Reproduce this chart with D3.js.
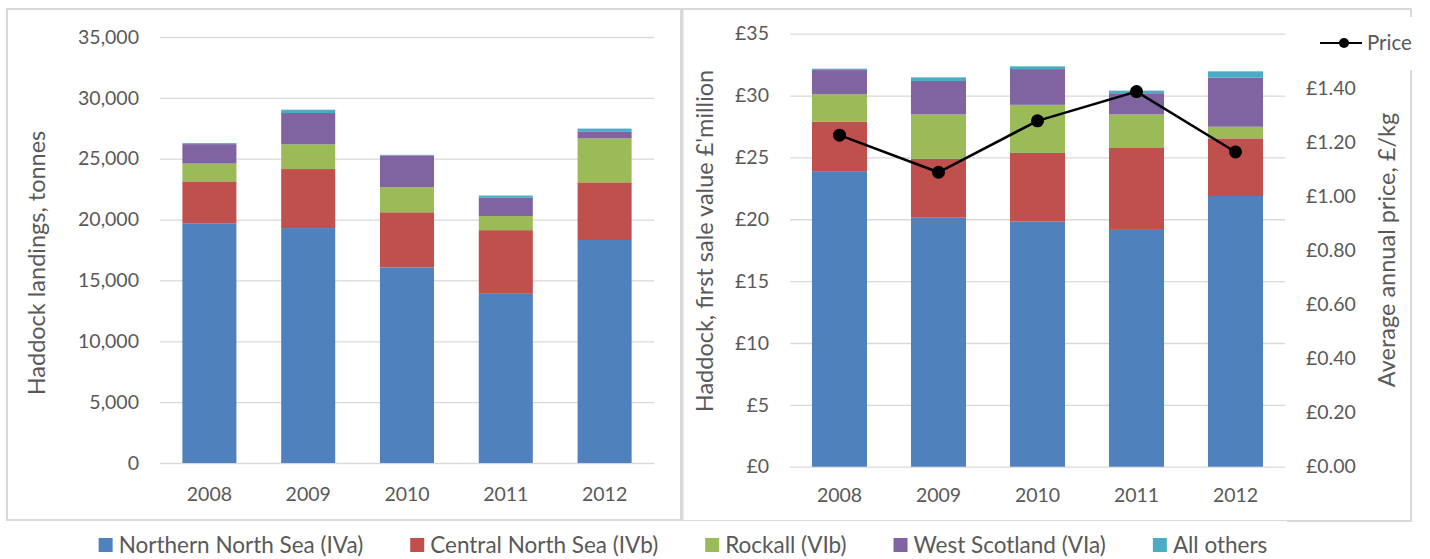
<!DOCTYPE html>
<html><head><meta charset="utf-8">
<script src="https://cdn.jsdelivr.net/npm/d3@7"></script>
<style>
html,body{margin:0;padding:0;background:#fff;}
svg{display:block;font-family:Lato,"Liberation Sans",sans-serif;}
</style></head>
<body><svg id="c" width="1430" height="559"></svg>
<script>
const years = ["2008","2009","2010","2011","2012"];
const seriesNames = ["Northern North Sea (IVa)","Central North Sea (IVb)","Rockall (VIb)","West Scotland (VIa)","All others"];
const colors = ["#4F81BD","#C0504D","#9BBB59","#8064A2","#4BACC6"];
// landings, tonnes
const landNNS   = [19700, 19300, 16070, 13900, 18320];
const landCNS   = [3440, 4850, 4530, 5230, 4740];
const landRock  = [1460, 2030, 2060, 1165, 3605];
const landWS    = [1600, 2575, 2575, 1490, 540];
const landOther = [80, 270, 80, 190, 270];
// first sale value, £ million
const valNNS   = [23.89, 20.13, 19.81, 19.14, 21.88];
const valCNS   = [3.99, 4.75, 5.55, 6.62, 4.66];
const valRock  = [2.23, 3.59, 3.89, 2.71, 0.94];
const valWS    = [1.95, 2.71, 2.89, 1.72, 3.97];
const valOther = [0.11, 0.29, 0.22, 0.21, 0.51];
// average annual price, £/kg
const price = [1.225, 1.088, 1.278, 1.386, 1.163];
const leftTicks = [0,5000,10000,15000,20000,25000,30000,35000];
const valTicks = [0,5,10,15,20,25,30,35];
const priceTicks = [0,0.2,0.4,0.6,0.8,1.0,1.2,1.4];

const svg = d3.select("#c");
const txt = "#595959", grid = "#D9D9D9", border = "#D9D9D9";

function rows(arrs){ return years.map((y,i)=>{const o={year:y}; seriesNames.forEach((s,k)=>o[s]=arrs[k][i]); return o;}); }
const stack = d3.stack().keys(seriesNames);

// panel borders
svg.append("rect").attr("x",7).attr("y",9).attr("width",674).attr("height",511)
  .attr("fill","none").attr("stroke",border).attr("stroke-width",2);
svg.append("rect").attr("x",682.5).attr("y",9).attr("width",728.5).attr("height",512)
  .attr("fill","none").attr("stroke",border).attr("stroke-width",2);

function drawBars(g, data, x, y){
  const layers = stack(data);
  g.selectAll("g.layer").data(layers).join("g").attr("class","layer")
    .attr("fill",(d,i)=>colors[i])
    .selectAll("rect").data(d=>d).join("rect")
    .attr("x",d=>x(d.data.year)).attr("width",x.bandwidth())
    .attr("y",d=>y(d[1])).attr("height",d=>y(d[0])-y(d[1]));
}
function styleAxis(g){
  g.select(".domain").remove();
  g.selectAll(".tick line").attr("stroke",grid).attr("stroke-width",1.3);
  g.selectAll("text").attr("fill",txt).style("font-size","19.5px").style("font-family","Lato");
}

// ---------- Left chart ----------
const xL = d3.scaleBand().domain(years).range([160,654]).paddingInner(0.453).paddingOuter(0.2265);
const yL = d3.scaleLinear().domain([0,35000]).range([463,37]);
const gLy = svg.append("g").attr("transform","translate(160,0)")
  .call(d3.axisLeft(yL).tickValues(leftTicks).tickSize(-494).tickPadding(21).tickFormat(d3.format(",")));
styleAxis(gLy);
drawBars(svg.append("g"), rows([landNNS,landCNS,landRock,landWS,landOther]), xL, yL);
const gLx = svg.append("g").attr("transform","translate(0,463)")
  .call(d3.axisBottom(xL).tickSize(0).tickPadding(24));
styleAxis(gLx);
svg.append("text").attr("transform","translate(45,263) rotate(-90)").attr("text-anchor","middle")
  .attr("fill",txt).style("font-size","23.5px").text("Haddock landings, tonnes");

// ---------- Right chart ----------
const xR = d3.scaleBand().domain(years).range([790,1285]).paddingInner(0.444).paddingOuter(0.222);
const yR = d3.scaleLinear().domain([0,35]).range([466.7,33.7]);
const yP = d3.scaleLinear().domain([0,1.6]).range([466.7,33.7]);
const gRy = svg.append("g").attr("transform","translate(790,0)")
  .call(d3.axisLeft(yR).tickValues(valTicks).tickSize(-495).tickPadding(21).tickFormat(d=>"£"+d));
styleAxis(gRy);
drawBars(svg.append("g"), rows([valNNS,valCNS,valRock,valWS,valOther]), xR, yR);
const gRy2 = svg.append("g").attr("transform","translate(1285,0)")
  .call(d3.axisRight(yP).tickValues(priceTicks).tickSize(0).tickPadding(21).tickFormat(d=>"£"+d3.format(".2f")(d)));
styleAxis(gRy2);
const gRx = svg.append("g").attr("transform","translate(0,466.7)")
  .call(d3.axisBottom(xR).tickSize(0).tickPadding(21.5));
styleAxis(gRx);

const line = d3.line().x((d,i)=>xR(years[i])+xR.bandwidth()/2).y(d=>yP(d));
svg.append("path").datum(price).attr("d",line).attr("fill","none").attr("stroke","#000").attr("stroke-width",2.5);
svg.append("g").selectAll("circle").data(price).join("circle")
  .attr("cx",(d,i)=>xR(years[i])+xR.bandwidth()/2).attr("cy",d=>yP(d)).attr("r",6.5).attr("fill","#000");

svg.append("text").attr("transform","translate(713,241) rotate(-90)").attr("text-anchor","middle")
  .attr("fill",txt).style("font-size","23.5px").text("Haddock, first sale value £'million");
svg.append("text").attr("transform","translate(1395,250) rotate(-90)").attr("text-anchor","middle")
  .attr("fill",txt).style("font-size","23.5px").text("Average annual price, £/kg");

// price legend
svg.append("rect").attr("x",1305).attr("y",17).attr("width",125).attr("height",53).attr("fill","#fff");
svg.append("line").attr("x1",1320).attr("x2",1362).attr("y1",43).attr("y2",43).attr("stroke","#000").attr("stroke-width",2.2);
svg.append("circle").attr("cx",1344).attr("cy",43).attr("r",5).attr("fill","#000");
svg.append("text").attr("x",1367).attr("y",43).attr("dy","0.35em").attr("fill",txt).style("font-size","20.5px").text("Price");

// bottom legend
svg.append("rect").attr("x",83).attr("y",521).attr("width",1204).attr("height",38).attr("fill","#fff");
const lg = svg.append("g");
const items = lg.selectAll("g").data(seriesNames).join("g");
items.append("rect").attr("width",14).attr("height",14).attr("y",-7).attr("fill",(d,i)=>colors[i]);
items.append("text").attr("x",20).attr("dy","0.35em").attr("fill",txt).style("font-size","22.5px").text(d=>d);
let widths = [];
items.each(function(){ widths.push(this.getBBox().width); });
const gap = 47;
const total = d3.sum(widths) + gap*(widths.length-1);
let cx = 683 - total/2;
items.attr("transform",(d,i)=>{ const t=`translate(${cx},545)`; cx += widths[i]+gap; return t; });
</script></body></html>
